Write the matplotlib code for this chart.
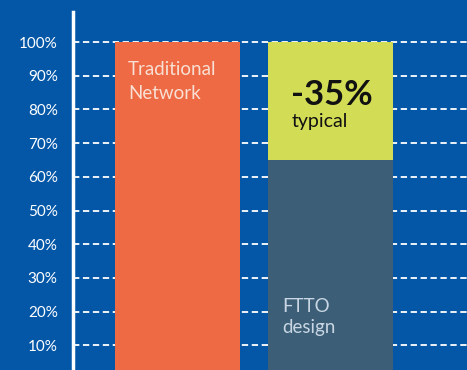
import matplotlib
matplotlib.use("Agg")
import matplotlib.pyplot as plt
from matplotlib.ticker import FixedLocator

categories = ["Traditional\nNetwork", "FTTO\ndesign"]
base_values = [100, 65]
saving_values = [0, 35]
saving_label = "-35%"
saving_sub = "typical"
yticks = [10, 20, 30, 40, 50, 60, 70, 80, 90, 100]
ytick_labels = [f"{v}%" for v in yticks]

BG = "#0457a7"
ORANGE = "#ee6a44"
LIME = "#d3dc55"
SLATE = "#3c5e77"

plt.rcParams['font.family'] = ['Lato', 'DejaVu Sans']

W, H = 467, 370
fig = plt.figure(figsize=(W / 100, H / 100), dpi=100, facecolor=BG)
# axes from x=73 to 467, y=12 to 370 (px from top)
ax = fig.add_axes([73 / W, 0, (467 - 73) / W, (370 - 12) / H])
ax.set_facecolor(BG)

x = [0, 1]
width = 0.817
ax.bar(x, base_values, width=width, color=[ORANGE, SLATE], zorder=2)
ax.bar(x, saving_values, width=width, bottom=base_values, color=LIME, zorder=2)

ax.set_xlim(-0.683, 1.892)
ax.set_ylim(2.7, 108.9)

ax.yaxis.set_major_locator(FixedLocator(yticks))
ax.set_yticklabels(ytick_labels)
ax.tick_params(axis='y', length=0, pad=11, labelcolor='white', labelsize=11)
ax.set_xticks([])
ax.grid(axis='y', color='white', linestyle=(0, (3.5, 2)), linewidth=1.3, zorder=1)
ax.set_axisbelow(True)

for s in ['top', 'right', 'bottom']:
    ax.spines[s].set_visible(False)
ax.spines['left'].set_color('white')
ax.spines['left'].set_linewidth(2.5)

# labels
ax.text(x[0] - width / 2 + 0.085, 94.3, categories[0], color='#f8e0d4', fontsize=13.5,
        ha='left', va='top', linespacing=1.45, zorder=3)
ax.text(x[1] - width / 2 + 0.15, 89, saving_label, color='#111111', fontsize=25,
        fontweight='bold', ha='left', va='top', zorder=3)
ax.text(x[1] - width / 2 + 0.155, 79, saving_sub, color='#111111', fontsize=14,
        ha='left', va='top', zorder=3)
ax.text(x[1] - width / 2 + 0.09, 24, categories[1], color='#c9d7e4', fontsize=13.5,
        ha='left', va='top', linespacing=1.3, zorder=3)

fig.savefig("out.png", dpi=100, facecolor=BG)
